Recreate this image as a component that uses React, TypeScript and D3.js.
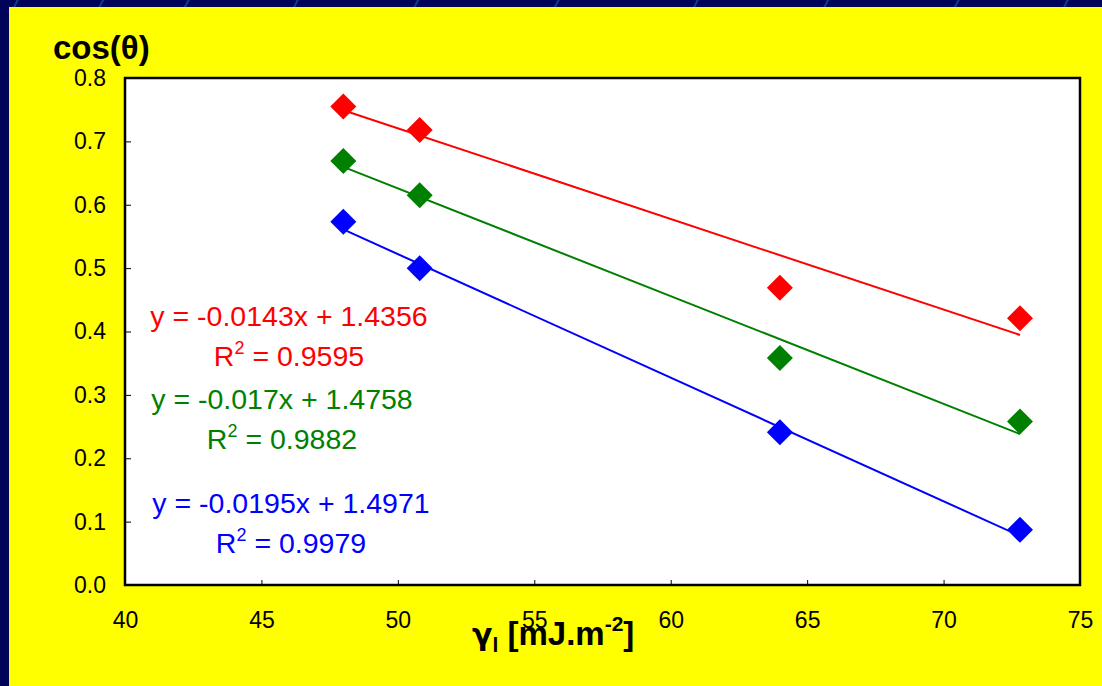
import React, { useEffect, useRef } from 'react';
import * as d3 from 'd3';

// surface tension of the liquid [mJ.m-2]
const gammaL = [48, 50.8, 64, 72.8];

// cos(theta) for each surface
const redCos = [0.755, 0.718, 0.469, 0.421];
const greenCos = [0.669, 0.615, 0.358, 0.258];
const blueCos = [0.573, 0.5, 0.241, 0.087];

// fitted lines as printed on the chart
const slopes = [-0.0143, -0.017, -0.0195];
const intercepts = [1.4356, 1.4758, 1.4971];
const eqLabels = ['y = -0.0143x + 1.4356', 'y = -0.017x + 1.4758', 'y = -0.0195x + 1.4971'];
const r2Labels = ['0.9595', '0.9882', '0.9979'];

const colors = ['#ff0000', '#008000', '#0000ff'];

const xTicks = [40, 45, 50, 55, 60, 65, 70, 75];
const yTicks = [0, 0.1, 0.2, 0.3, 0.4, 0.5, 0.6, 0.7, 0.8];

const W = 1102;
const H = 686;
const font = '"Liberation Sans", Arial, sans-serif';

export default function App() {
  const ref = useRef<SVGSVGElement>(null);

  useEffect(() => {
    const svg = d3.select(ref.current);
    svg.selectAll('*').remove();

    const margin = { top: 78, right: 22, bottom: 101, left: 125 };

    const x = d3.scaleLinear().domain([40, 75]).range([margin.left, W - margin.right]);
    const y = d3.scaleLinear().domain([0, 0.8]).range([H - margin.bottom, margin.top]);

    // slide background
    svg.append('rect').attr('width', W).attr('height', H).attr('fill', '#000458');
    const deco = svg.append('g').attr('fill', 'none').attr('stroke', '#1d4fa8').attr('stroke-width', 2).attr('opacity', 0.7);
    [20, 105, 190, 300, 420, 560, 700, 830, 960, 1070].forEach((cx, i) => {
      deco.append('path').attr('d', `M${cx - 8},${12} Q${cx},${-6 + (i % 3) * 2} ${cx + 6},${-14}`);
    });
    svg.append('rect').attr('x', 9).attr('y', 7).attr('width', W - 9).attr('height', H - 7).attr('fill', '#ffff00');

    // plot area
    svg.append('rect')
      .attr('x', x(40)).attr('y', y(0.8))
      .attr('width', x(75) - x(40)).attr('height', y(0) - y(0.8))
      .attr('fill', '#ffffff');

    const xAxis = d3.axisBottom(x).tickValues(xTicks).tickSize(-5).tickPadding(27).tickFormat(d3.format('d'));
    const yAxis = d3.axisLeft(y).tickValues(yTicks).tickSize(-6).tickPadding(19).tickFormat(d3.format('.1f'));

    const gx = svg.append('g').attr('transform', `translate(0,${y(0)})`).call(xAxis);
    const gy = svg.append('g').attr('transform', `translate(${x(40)},0)`).call(yAxis);
    [gx, gy].forEach(g => {
      g.select('.domain').remove();
      g.selectAll('line').attr('stroke', '#000');
      g.selectAll('text').attr('font-family', font).attr('font-size', 23).attr('fill', '#000');
    });

    // trend lines
    const series = [redCos, greenCos, blueCos];
    series.forEach((vals, i) => {
      const x0 = d3.min(gammaL)!;
      const x1 = d3.max(gammaL)!;
      svg.append('line')
        .attr('x1', x(x0)).attr('y1', y(slopes[i] * x0 + intercepts[i]))
        .attr('x2', x(x1)).attr('y2', y(slopes[i] * x1 + intercepts[i]))
        .attr('stroke', colors[i]).attr('stroke-width', 2);
    });

    // diamond markers
    const diamond = d3.symbol(d3.symbolSquare, 338);
    series.forEach((vals, i) => {
      svg.append('g').selectAll('path')
        .data(vals)
        .join('path')
        .attr('d', diamond)
        .attr('transform', (d, j) => `translate(${x(gammaL[j])},${y(d)}) rotate(45)`)
        .attr('fill', colors[i]);
    });

    // frame
    svg.append('rect')
      .attr('x', x(40)).attr('y', y(0.8))
      .attr('width', x(75) - x(40)).attr('height', y(0) - y(0.8))
      .attr('fill', 'none').attr('stroke', '#000').attr('stroke-width', 2.5);

    // equations
    const eqX = [289, 282, 291];
    const eqY = [326, 409, 513];
    eqLabels.forEach((t, i) => {
      svg.append('text')
        .attr('x', eqX[i]).attr('y', eqY[i])
        .attr('text-anchor', 'middle')
        .attr('font-family', font).attr('font-size', 28.5)
        .attr('fill', colors[i])
        .text(t);
      const r = svg.append('text')
        .attr('x', eqX[i]).attr('y', eqY[i] + 40)
        .attr('text-anchor', 'middle')
        .attr('font-family', font).attr('font-size', 28.5)
        .attr('fill', colors[i]);
      r.append('tspan').text('R');
      r.append('tspan').attr('font-size', 18).attr('dy', -12).text('2');
      r.append('tspan').attr('dy', 12).text(' = ' + r2Labels[i]);
    });

    // axis titles
    svg.append('text')
      .attr('x', 53).attr('y', 59)
      .attr('font-family', font).attr('font-size', 33).attr('font-weight', 'bold')
      .text('cos(θ)');

    const xt = svg.append('text')
      .attr('x', 472).attr('y', 645)
      .attr('font-family', font).attr('font-size', 33).attr('font-weight', 'bold');
    xt.append('tspan').attr('font-family', '"DejaVu Sans", sans-serif').attr('font-size', 30).text('γ');
    xt.append('tspan').attr('font-size', 21).attr('dy', 7).text('l');
    xt.append('tspan').attr('dy', -7).text(' [mJ.m');
    xt.append('tspan').attr('font-size', 21).attr('dy', -14).text('-2');
    xt.append('tspan').attr('dy', 14).text(']');
  }, []);

  return (
    <svg
      ref={ref}
      width={W}
      height={H}
      style={{ position: 'absolute', left: 0, top: 0, display: 'block' }}
    />
  );
}
